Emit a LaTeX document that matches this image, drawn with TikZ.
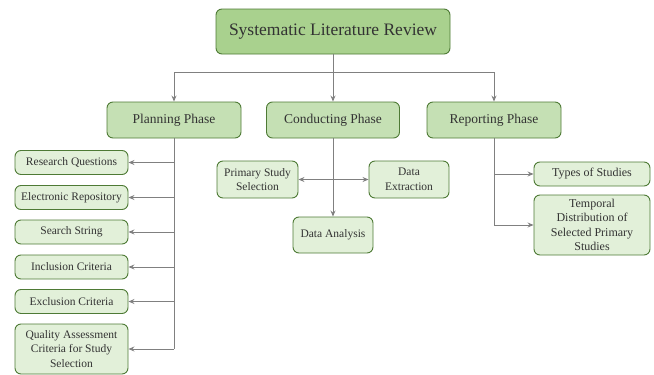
\documentclass[tikz,border=0pt]{standalone}
\usepackage{fontspec}
\setmainfont{Liberation Serif}
\usetikzlibrary{arrows.meta}
\definecolor{topfill}{HTML}{A9D18E}
\definecolor{phasefill}{HTML}{C5E0B4}
\definecolor{leaffill}{HTML}{E2F0D9}
\definecolor{boxedge}{HTML}{4E7A35}
\definecolor{link}{HTML}{808080}
\definecolor{ink}{HTML}{333333}
\begin{document}
\begin{tikzpicture}[x=1pt,y=-1pt,
  box/.style={draw=boxedge, line width=0.9pt, rounded corners=6pt, text=ink,
    align=center, inner sep=0pt},
  rootbox/.style={box, fill=topfill, font=\fontsize{17.5}{20}\selectfont},
  phasebox/.style={box, fill=phasefill, font=\fontsize{13.5}{16}\selectfont},
  leafbox/.style={box, fill=leaffill, font=\fontsize{11.5}{14.5}\selectfont},
  wire/.style={draw=link, line width=0.9pt},
  arr/.style={wire, -{Stealth[length=6pt,width=5pt]}},
  darr/.style={wire, {Stealth[length=6pt,width=5pt]}-{Stealth[length=6pt,width=5pt]}}
]
\useasboundingbox (0,0) rectangle (654,375);

% root and phases
\node[rootbox, minimum width=234pt, minimum height=45pt] (slr) at (333,31.5) {Systematic Literature Review};
\node[phasebox, minimum width=134pt, minimum height=36pt] (plan) at (174,120) {Planning Phase};
\node[phasebox, minimum width=133pt, minimum height=36pt] (cond) at (333,120) {Conducting Phase};
\node[phasebox, minimum width=134pt, minimum height=36pt] (rep) at (494,120) {Reporting Phase};

% planning leaves
\node[leafbox, minimum width=113pt, minimum height=24pt] (rq) at (71.5,162.5) {Research Questions};
\node[leafbox, minimum width=113pt, minimum height=24pt] (er) at (71.5,197.5) {Electronic Repository};
\node[leafbox, minimum width=113pt, minimum height=24pt] (ss) at (71.5,232) {Search String};
\node[leafbox, minimum width=113pt, minimum height=24pt] (ic) at (71.5,267) {Inclusion Criteria};
\node[leafbox, minimum width=113pt, minimum height=24pt] (ec) at (71.5,301.5) {Exclusion Criteria};
\node[leafbox, minimum width=113pt, minimum height=50pt] (qa) at (71.5,349) {Quality Assessment\\Criteria for Study\\Selection};

% conducting leaves
\node[leafbox, minimum width=81pt, minimum height=37pt] (pss) at (257.5,179.5) {Primary Study\\Selection};
\node[leafbox, minimum width=80pt, minimum height=37pt] (de) at (409,179.5) {Data\\Extraction};
\node[leafbox, minimum width=80pt, minimum height=36pt] (da) at (333,235) {Data Analysis};

% reporting leaves
\node[leafbox, minimum width=116pt, minimum height=24pt, font=\fontsize{12}{14.5}\selectfont] (ts) at (592,174) {Types of Studies};
\node[leafbox, minimum width=116pt, minimum height=60pt, font=\fontsize{12}{14.5}\selectfont] (td) at (592,225) {Temporal\\Distribution of\\Selected Primary\\Studies};

% root to phases
\coordinate (bar) at (333,72);
\draw[wire] (plan.north |- bar) -- (rep.north |- bar);
\draw[arr] (slr.south) -- (cond.north);
\draw[arr] (plan.north |- bar) -- (plan.north);
\draw[arr] (rep.north |- bar) -- (rep.north);

% planning branch
\draw[wire] (plan.south) -- (plan.south |- qa.east);
\foreach \n in {rq,er,ss,ic,ec,qa}
  \draw[arr] (plan.south |- \n.east) -- (\n.east);

% conducting branch
\draw[arr] (cond.south) -- (da.north);
\draw[darr] (pss.east) -- (de.west);

% reporting branch
\draw[wire] (rep.south) -- (rep.south |- td.west);
\draw[arr] (rep.south |- ts.west) -- (ts.west);
\draw[arr] (rep.south |- td.west) -- (td.west);
\end{tikzpicture}
\end{document}
